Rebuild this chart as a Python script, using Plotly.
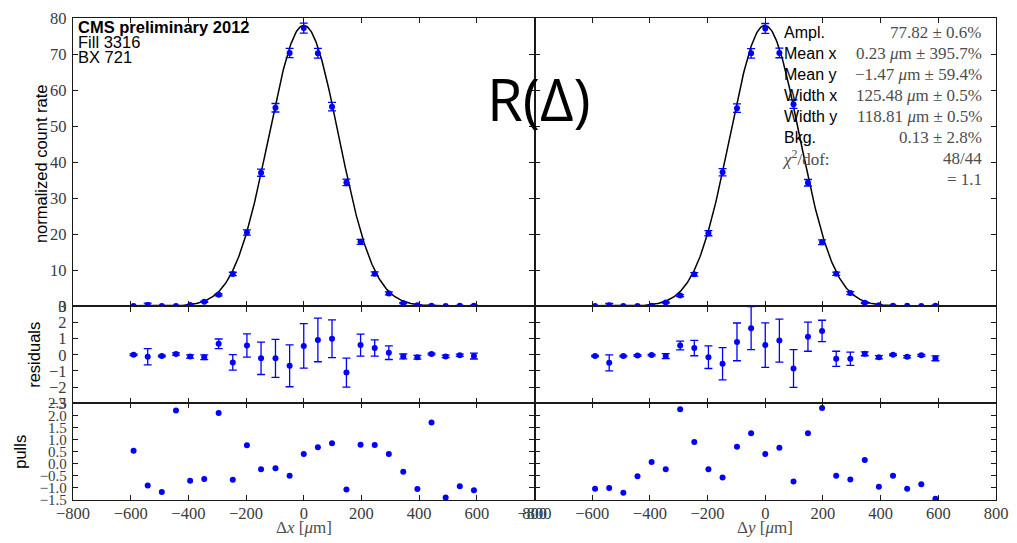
import numpy as np
import plotly.graph_objects as go

# Beam-separation scan positions (micrometres), same for the x and y scans
scan_pos = [-590, -541, -492, -443, -394, -345, -295, -246, -197, -148, -98, -49,
            0, 49, 98, 148, 197, 246, 295, 345, 394, 443, 492, 541, 590]

# x scan: normalized rate, uncertainty, residuals and pulls
rate_x = [0.1, 0.4, 0.1, 0.1, 0.4, 1.3, 3.2, 9.0, 20.5, 37.1, 55.1, 70.3,
          77.2, 70.2, 55.4, 34.4, 17.9, 9.05, 3.6, 0.9, 0.3, 0.2, 0.1, 0.2, 0.2]
err_x = [0.05, 0.5, 0.05, 0.07, 0.1, 0.15, 0.3, 0.48, 0.72, 1.0, 1.18, 1.3,
         1.38, 1.35, 1.17, 0.9, 0.68, 0.5, 0.42, 0.15, 0.12, 0.05, 0.08, 0.07, 0.18]
resid_x = [0.0, -0.12, -0.07, 0.05, -0.1, -0.15, 0.68, -0.47, 0.58, -0.22, -0.22, -0.68,
           0.55, 0.92, 1.0, -1.1, 0.6, 0.42, 0.13, -0.1, -0.15, 0.05, -0.1, -0.03, -0.08]
pull_x = [0.53, -0.9, -1.17, 2.2, -0.7, -0.63, 2.1, -0.66, 0.76, -0.23, -0.19, -0.5,
          0.4, 0.68, 0.84, -1.07, 0.78, 0.77, 0.4, -0.33, -1.05, 1.7, -1.4, -0.93, -1.1]

# y scan: normalized rate, uncertainty, residuals and pulls
rate_y = [0.1, 0.3, 0.1, 0.1, 0.2, 1.1, 3.0, 8.9, 20.3, 37.2, 55.0, 70.2,
          77.1, 70.3, 56.1, 34.3, 17.8, 9.05, 3.7, 1.0, 0.3, 0.2, 0.15, 0.1, 0.2]
err_y = [0.05, 0.5, 0.05, 0.05, 0.05, 0.15, 0.27, 0.48, 0.7, 1.0, 1.17, 1.33,
         1.38, 1.33, 1.17, 0.9, 0.66, 0.47, 0.41, 0.12, 0.1, 0.05, 0.07, 0.06, 0.15]
resid_y = [-0.08, -0.5, -0.08, -0.04, -0.02, -0.08, 0.58, 0.42, -0.15, -0.55, 0.8, 1.65,
           0.6, 0.88, -0.85, 1.12, 1.48, -0.25, -0.25, 0.06, -0.15, 0.0, -0.12, -0.03, -0.22]
pull_y = [-1.03, -1.0, -1.2, -0.52, 0.07, -0.23, 2.25, 0.9, -0.23, -0.57, 0.7, 1.26,
          0.4, 0.66, -0.74, 1.26, 2.3, -0.5, -0.65, 0.15, -0.95, -0.5, -1.03, -0.85, -1.45]

# Fit results
fit_ampl = 77.82
fit_bkg = 0.13
fit_mean_x = 0.23
fit_mean_y = -1.47
curve_sigma_x = 121.0
curve_sigma_y = 120.5
curve_span = 710

stat_labels = ["Ampl.", "Mean x", "Mean y", "Width x", "Width y", "Bkg."]
stat_values = ["77.82 ± 0.6%",
               "0.23 <i>μ</i>m ± 395.7%",
               "−1.47 <i>μ</i>m ± 59.4%",
               "125.48 <i>μ</i>m ± 0.5%",
               "118.81 <i>μ</i>m ± 0.5%",
               "0.13 ± 2.8%"]
chi2_text = "48/44"
chi2_ratio = "= 1.1"

header_lines = ["<b>CMS preliminary 2012</b>", "Fill 3316", "BX 721"]

x_ticks = [-800, -600, -400, -200, 0, 200, 400, 600, 800]
rate_ticks = [0, 10, 20, 30, 40, 50, 60, 70, 80]
resid_ticks = [-3, -2, -1, 0, 1, 2, 3]
pull_ticks = [-1.5, -1.0, -0.5, 0.0, 0.5, 1.0, 1.5, 2.0, 2.5]

SANS = "Liberation Sans"
SERIF = "Liberation Serif"
BLUE = "#0000ff"
AXIS = "#1a1a1a"
TICKTXT = "#3a3a3a"
MATHTXT = "#4d4d4d"

# Figure geometry (pixels)
W, H = 1017, 543
ML, MR, MT, MB = 73, 9, 17, 43
PW, PH = W - ML - MR, H - MT - MB


def fx(p):
    return (p - ML) / PW


def fy(p):
    return 1 - (p - MT) / PH


fig = go.Figure()


def gauss(xs, mean, sigma):
    return fit_ampl * np.exp(-(xs - mean) ** 2 / (2 * sigma ** 2)) + fit_bkg


curve_x = np.linspace(-curve_span, curve_span, 500)

panels = [
    (rate_x, err_x, resid_x, pull_x, fit_mean_x, curve_sigma_x, 0),
    (rate_y, err_y, resid_y, pull_y, fit_mean_y, curve_sigma_y, 1),
]


def ref(n):
    return ("x" if n == 1 else f"x{n}"), ("y" if n == 1 else f"y{n}")


for rate, err, resid, pull, mean, sigma, col in panels:
    xr, yr = ref(1 + col)
    fig.add_trace(go.Scatter(x=curve_x, y=gauss(curve_x, mean, sigma), mode="lines",
                             line=dict(color="black", width=1.5), xaxis=xr, yaxis=yr,
                             hoverinfo="skip"))
    fig.add_trace(go.Scatter(x=scan_pos, y=rate, mode="markers",
                             marker=dict(color=BLUE, size=6),
                             error_y=dict(type="data", array=err, color=BLUE,
                                          thickness=1.3, width=4),
                             xaxis=xr, yaxis=yr))
    xr, yr = ref(3 + col)
    fig.add_trace(go.Scatter(x=scan_pos, y=resid, mode="markers",
                             marker=dict(color=BLUE, size=6),
                             error_y=dict(type="data", array=err, color=BLUE,
                                          thickness=1.3, width=4),
                             xaxis=xr, yaxis=yr))
    xr, yr = ref(5 + col)
    fig.add_trace(go.Scatter(x=scan_pos, y=pull, mode="markers",
                             marker=dict(color=BLUE, size=6),
                             xaxis=xr, yaxis=yr))

col_domains = [[0, 0.5], [0.5, 1]]
row_h = [289, 97, 97]
b_bot = row_h[2] / PH
b_mid = (row_h[2] + row_h[1]) / PH
row_domains = [[b_mid, 1], [b_bot, b_mid], [0, b_bot]]

common_axis = dict(showline=True, linecolor=AXIS, linewidth=1.3, mirror="allticks",
                   ticks="inside", ticklen=5, tickwidth=1, tickcolor=AXIS,
                   showgrid=False, zeroline=False,
                   tickfont=dict(family=SERIF, size=16.5, color=TICKTXT))

layout_axes = {}
for row in range(3):
    for col in range(2):
        n = row * 2 + col + 1
        xname = "xaxis" if n == 1 else f"xaxis{n}"
        yname = "yaxis" if n == 1 else f"yaxis{n}"
        xa = dict(common_axis, domain=col_domains[col], range=[-800, 800],
                  tickmode="array", tickvals=x_ticks,
                  showticklabels=(row == 2), ticklabelstandoff=-2,
                  anchor=("y" if n == 1 else f"y{n}"))
        if row == 0:
            yt, yrg = rate_ticks, [0, 80]
        elif row == 1:
            yt, yrg = resid_ticks, [-3, 3]
        else:
            yt, yrg = pull_ticks, [-1.5, 2.5]
        ya = dict(common_axis, domain=row_domains[row], range=yrg,
                  tickmode="array", tickvals=yt,
                  showticklabels=(col == 0), ticklabelstandoff=2,
                  anchor=("x" if n == 1 else f"x{n}"))
        if row == 2:
            # pull ticks are closely spaced, so use a slightly smaller face
            ya["tickformat"] = ".1f"
            ya["tickfont"] = dict(family=SERIF, size=15, color=TICKTXT)
        layout_axes[xname] = xa
        layout_axes[yname] = ya

fig.update_layout(width=W, height=H, margin=dict(l=ML, r=MR, t=MT, b=MB),
                  paper_bgcolor="white", plot_bgcolor="white", showlegend=False,
                  **layout_axes)

ann = []


def text(x, y, s, family, size, color="black", xanchor="left", angle=0):
    ann.append(dict(x=fx(x), y=fy(y), xref="paper", yref="paper", text=s,
                    showarrow=False, xanchor=xanchor, yanchor="middle",
                    textangle=angle, font=dict(family=family, size=size, color=color)))


# Run information in the top-left corner
for s, yy in zip(header_lines, [26, 41, 56.5]):
    text(76, yy, s, SANS, 16.5)

# Fit summary
stat_y = [32, 53, 74, 95, 116, 136.5]
for lab, val, yy in zip(stat_labels, stat_values, stat_y):
    text(791, yy, lab, SANS, 16)
    text(996, yy, val, SERIF, 17, color=MATHTXT, xanchor="right")
text(789, 157.5, "<i>χ</i><sup>2</sup>/dof:", SERIF, 17, color=MATHTXT)
text(996, 157.5, chi2_text, SERIF, 17, color=MATHTXT, xanchor="right")
text(996, 179, chi2_ratio, SERIF, 17, color=MATHTXT, xanchor="right")

# Axis titles
text(40, 163, "normalized count rate", SANS, 16.5, xanchor="center", angle=-90)
text(34, 355, "residuals", SANS, 16.5, xanchor="center", angle=-90)
text(19, 452, "pulls", SANS, 16.5, xanchor="center", angle=-90)
text(307, 528, "Δ<i>x</i> [<i>μ</i>m]", SERIF, 17, color=MATHTXT, xanchor="center")
text(774, 528, "Δ<i>y</i> [<i>μ</i>m]", SERIF, 17, color=MATHTXT, xanchor="center")

# Response function label
text(545.5, 98, "R(Δ)", "Open Sans", 58, xanchor="center")

fig.update_layout(annotations=ann)
fig.write_html("out.html")
